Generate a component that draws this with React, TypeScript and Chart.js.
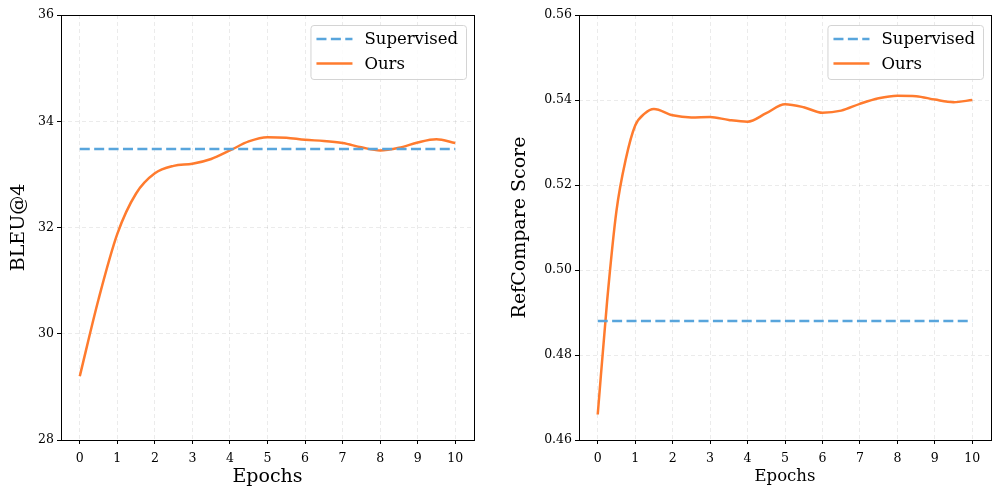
import { useEffect, useRef } from "react"
import { Chart, registerables } from "chart.js"

Chart.register(...registerables)

// Epoch positions (half steps, finer near the steep start)
const bleuEpochs = [0, 0.5, 1, 1.5, 2, 2.5, 3, 3.5, 4, 4.5, 5, 5.5, 6, 6.5, 7, 7.5, 8, 8.5, 9, 9.5, 10]
const bleuOurs = [29.2, 30.65, 31.88, 32.64, 33.02, 33.16, 33.2, 33.29, 33.45, 33.62, 33.7, 33.69, 33.65, 33.63, 33.59, 33.51, 33.45, 33.5, 33.6, 33.66, 33.59]
const bleuSupervised = 33.48

const refEpochs = [0, 0.25, 0.5, 0.75, 1, 1.25, 1.5, 2, 2.5, 3, 3.5, 4, 4.5, 5, 5.5, 6, 6.5, 7, 7.5, 8, 8.5, 9, 9.5, 10]
const refOurs = [0.466, 0.4926, 0.5139, 0.5261, 0.534, 0.5368, 0.5379, 0.5364, 0.5359, 0.536, 0.5353, 0.5349, 0.5369, 0.539, 0.5383, 0.537, 0.5375, 0.5391, 0.5404, 0.541, 0.5409, 0.5401, 0.5395, 0.54]
const refSupervised = 0.488

const xTicks = [0, 1, 2, 3, 4, 5, 6, 7, 8, 9, 10]
const bleuTicks = [28, 30, 32, 34, 36]
const refTicks = [0.46, 0.48, 0.5, 0.52, 0.54, 0.56]

const seriesNames = ["Supervised", "Ours"]

const BLUE = "#58a5dc"
const ORANGE = "#ff7b2e"
const FONT = "'DejaVu Serif', serif"

// spines + legend inside the plot, matplotlib style
const framePlugin = {
  id: "frame",
  afterDatasetsDraw(chart: any) {
    const { ctx, chartArea: a } = chart
    ctx.save()
    ctx.strokeStyle = "#000"
    ctx.lineWidth = 1
    ctx.strokeRect(Math.round(a.left) + 0.5, Math.round(a.top) + 0.5, Math.round(a.right - a.left), Math.round(a.bottom - a.top))

    // legend
    ctx.font = "16.5px " + FONT
    const textW = Math.max(...seriesNames.map((n) => ctx.measureText(n).width))
    const w = 54 + textW + 8
    const h = 54
    const right = a.right - 8
    const left = right - w
    const top = a.top + 10
    ctx.beginPath()
    ctx.roundRect(left + 0.5, top + 0.5, w, h, 3)
    ctx.fillStyle = "rgba(255,255,255,0.85)"
    ctx.fill()
    ctx.strokeStyle = "#d4d4d4"
    ctx.stroke()

    const rows = [top + 14, top + 38.5]
    chart.data.datasets.forEach((ds: any, i: number) => {
      ctx.beginPath()
      ctx.setLineDash(ds.borderDash || [])
      ctx.strokeStyle = ds.borderColor
      ctx.lineWidth = 2.5
      ctx.moveTo(left + 6, rows[i])
      ctx.lineTo(left + 42, rows[i])
      ctx.stroke()
      ctx.setLineDash([])
      ctx.fillStyle = "#000"
      ctx.textBaseline = "middle"
      ctx.textAlign = "left"
      ctx.fillText(ds.label, left + 54, rows[i] + 1)
    })
    ctx.restore()
  },
}

interface PanelProps {
  epochs: number[]
  ours: number[]
  supervised: number
  yTicks: number[]
  decimals: number
  yTitle: string
  xTitleSize: number
  yWidth: number
  padRight: number
  yTitlePad: number
}

function Panel({ epochs, ours, supervised, yTicks, decimals, yTitle, xTitleSize, yWidth, padRight, yTitlePad }: PanelProps) {
  const chartRef = useRef<HTMLCanvasElement>(null)
  const chartInstance = useRef<Chart | null>(null)

  useEffect(() => {
    if (!chartRef.current) return
    if (chartInstance.current) chartInstance.current.destroy()
    const ctx = chartRef.current.getContext("2d")
    if (!ctx) return

    const gridColor = "rgba(0,0,0,0.08)"
    const xStart = epochs[0]
    const xEnd = epochs[epochs.length - 1]

    chartInstance.current = new Chart(ctx, {
      type: "line",
      data: {
        datasets: [
          {
            label: seriesNames[0],
            data: [
              { x: xStart, y: supervised },
              { x: xEnd, y: supervised },
            ],
            borderColor: BLUE,
            borderWidth: 2.5,
            borderDash: [10, 4.4],
            pointRadius: 0,
          },
          {
            label: seriesNames[1],
            data: epochs.map((e, i) => ({ x: e, y: ours[i] })),
            borderColor: ORANGE,
            borderWidth: 2.5,
            cubicInterpolationMode: "monotone",
            pointRadius: 0,
          },
        ],
      },
      options: {
        animation: false,
        responsive: true,
        maintainAspectRatio: false,
        layout: { padding: { top: 15, right: padRight, left: 0, bottom: 0 } },
        plugins: { legend: { display: false }, tooltip: { enabled: false } },
        scales: {
          x: {
            type: "linear",
            min: -0.5,
            max: 10.5,
            afterBuildTicks: (scale: any) => {
              scale.ticks = xTicks.map((v) => ({ value: v }))
            },
            afterFit: (scale: any) => {
              scale.height = 56
            },
            ticks: {
              color: "#000",
              padding: 7,
              font: { family: FONT, size: 12.5 },
              callback: (v: any) => String(v),
            },
            grid: { color: gridColor, tickColor: "#000", tickLength: 4, tickBorderDash: [] },
            border: { display: false, dash: [4, 3] },
            title: {
              display: true,
              text: "Epochs",
              color: "#000",
              font: { family: FONT, size: xTitleSize },
              padding: { top: 0, bottom: xTitleSize > 17 ? 7.6 : 9 },
            },
          },
          y: {
            type: "linear",
            min: yTicks[0],
            max: yTicks[yTicks.length - 1],
            afterBuildTicks: (scale: any) => {
              scale.ticks = yTicks.map((v) => ({ value: v }))
            },
            afterFit: (scale: any) => {
              scale.width = yWidth
            },
            ticks: {
              color: "#000",
              padding: 3,
              font: { family: FONT, size: 12.5 },
              callback: (v: any) => Number(v).toFixed(decimals),
            },
            grid: { color: gridColor, tickColor: "#000", tickLength: 4, tickBorderDash: [] },
            border: { display: false, dash: [4, 3] },
            title: {
              display: true,
              text: yTitle,
              color: "#000",
              font: { family: FONT, size: 19 },
              padding: { top: yTitlePad, bottom: 0 },
            },
          },
        },
      },
      plugins: [framePlugin],
    } as any)

    return () => {
      if (chartInstance.current) {
        chartInstance.current.destroy()
        chartInstance.current = null
      }
    }
  }, [epochs, ours, supervised, yTicks, decimals, yTitle, xTitleSize, yWidth, padRight, yTitlePad])

  return <canvas ref={chartRef} />
}

export default function App() {
  return (
    <div style={{ position: "fixed", left: 0, top: 0, width: 1000, height: 496, background: "#fff" }}>
      <div style={{ position: "absolute", left: 0, top: 0, width: 500, height: 496 }}>
        <Panel
          epochs={bleuEpochs}
          ours={bleuOurs}
          supervised={bleuSupervised}
          yTicks={bleuTicks}
          decimals={0}
          yTitle="BLEU@4"
          xTitleSize={19}
          yWidth={61}
          padRight={26}
          yTitlePad={7.5}
        />
      </div>
      <div style={{ position: "absolute", left: 500, top: 0, width: 500, height: 496 }}>
        <Panel
          epochs={refEpochs}
          ours={refOurs}
          supervised={refSupervised}
          yTicks={refTicks}
          decimals={2}
          yTitle="RefCompare Score"
          xTitleSize={16.5}
          yWidth={79}
          padRight={9}
          yTitlePad={9}
        />
      </div>
    </div>
  )
}
